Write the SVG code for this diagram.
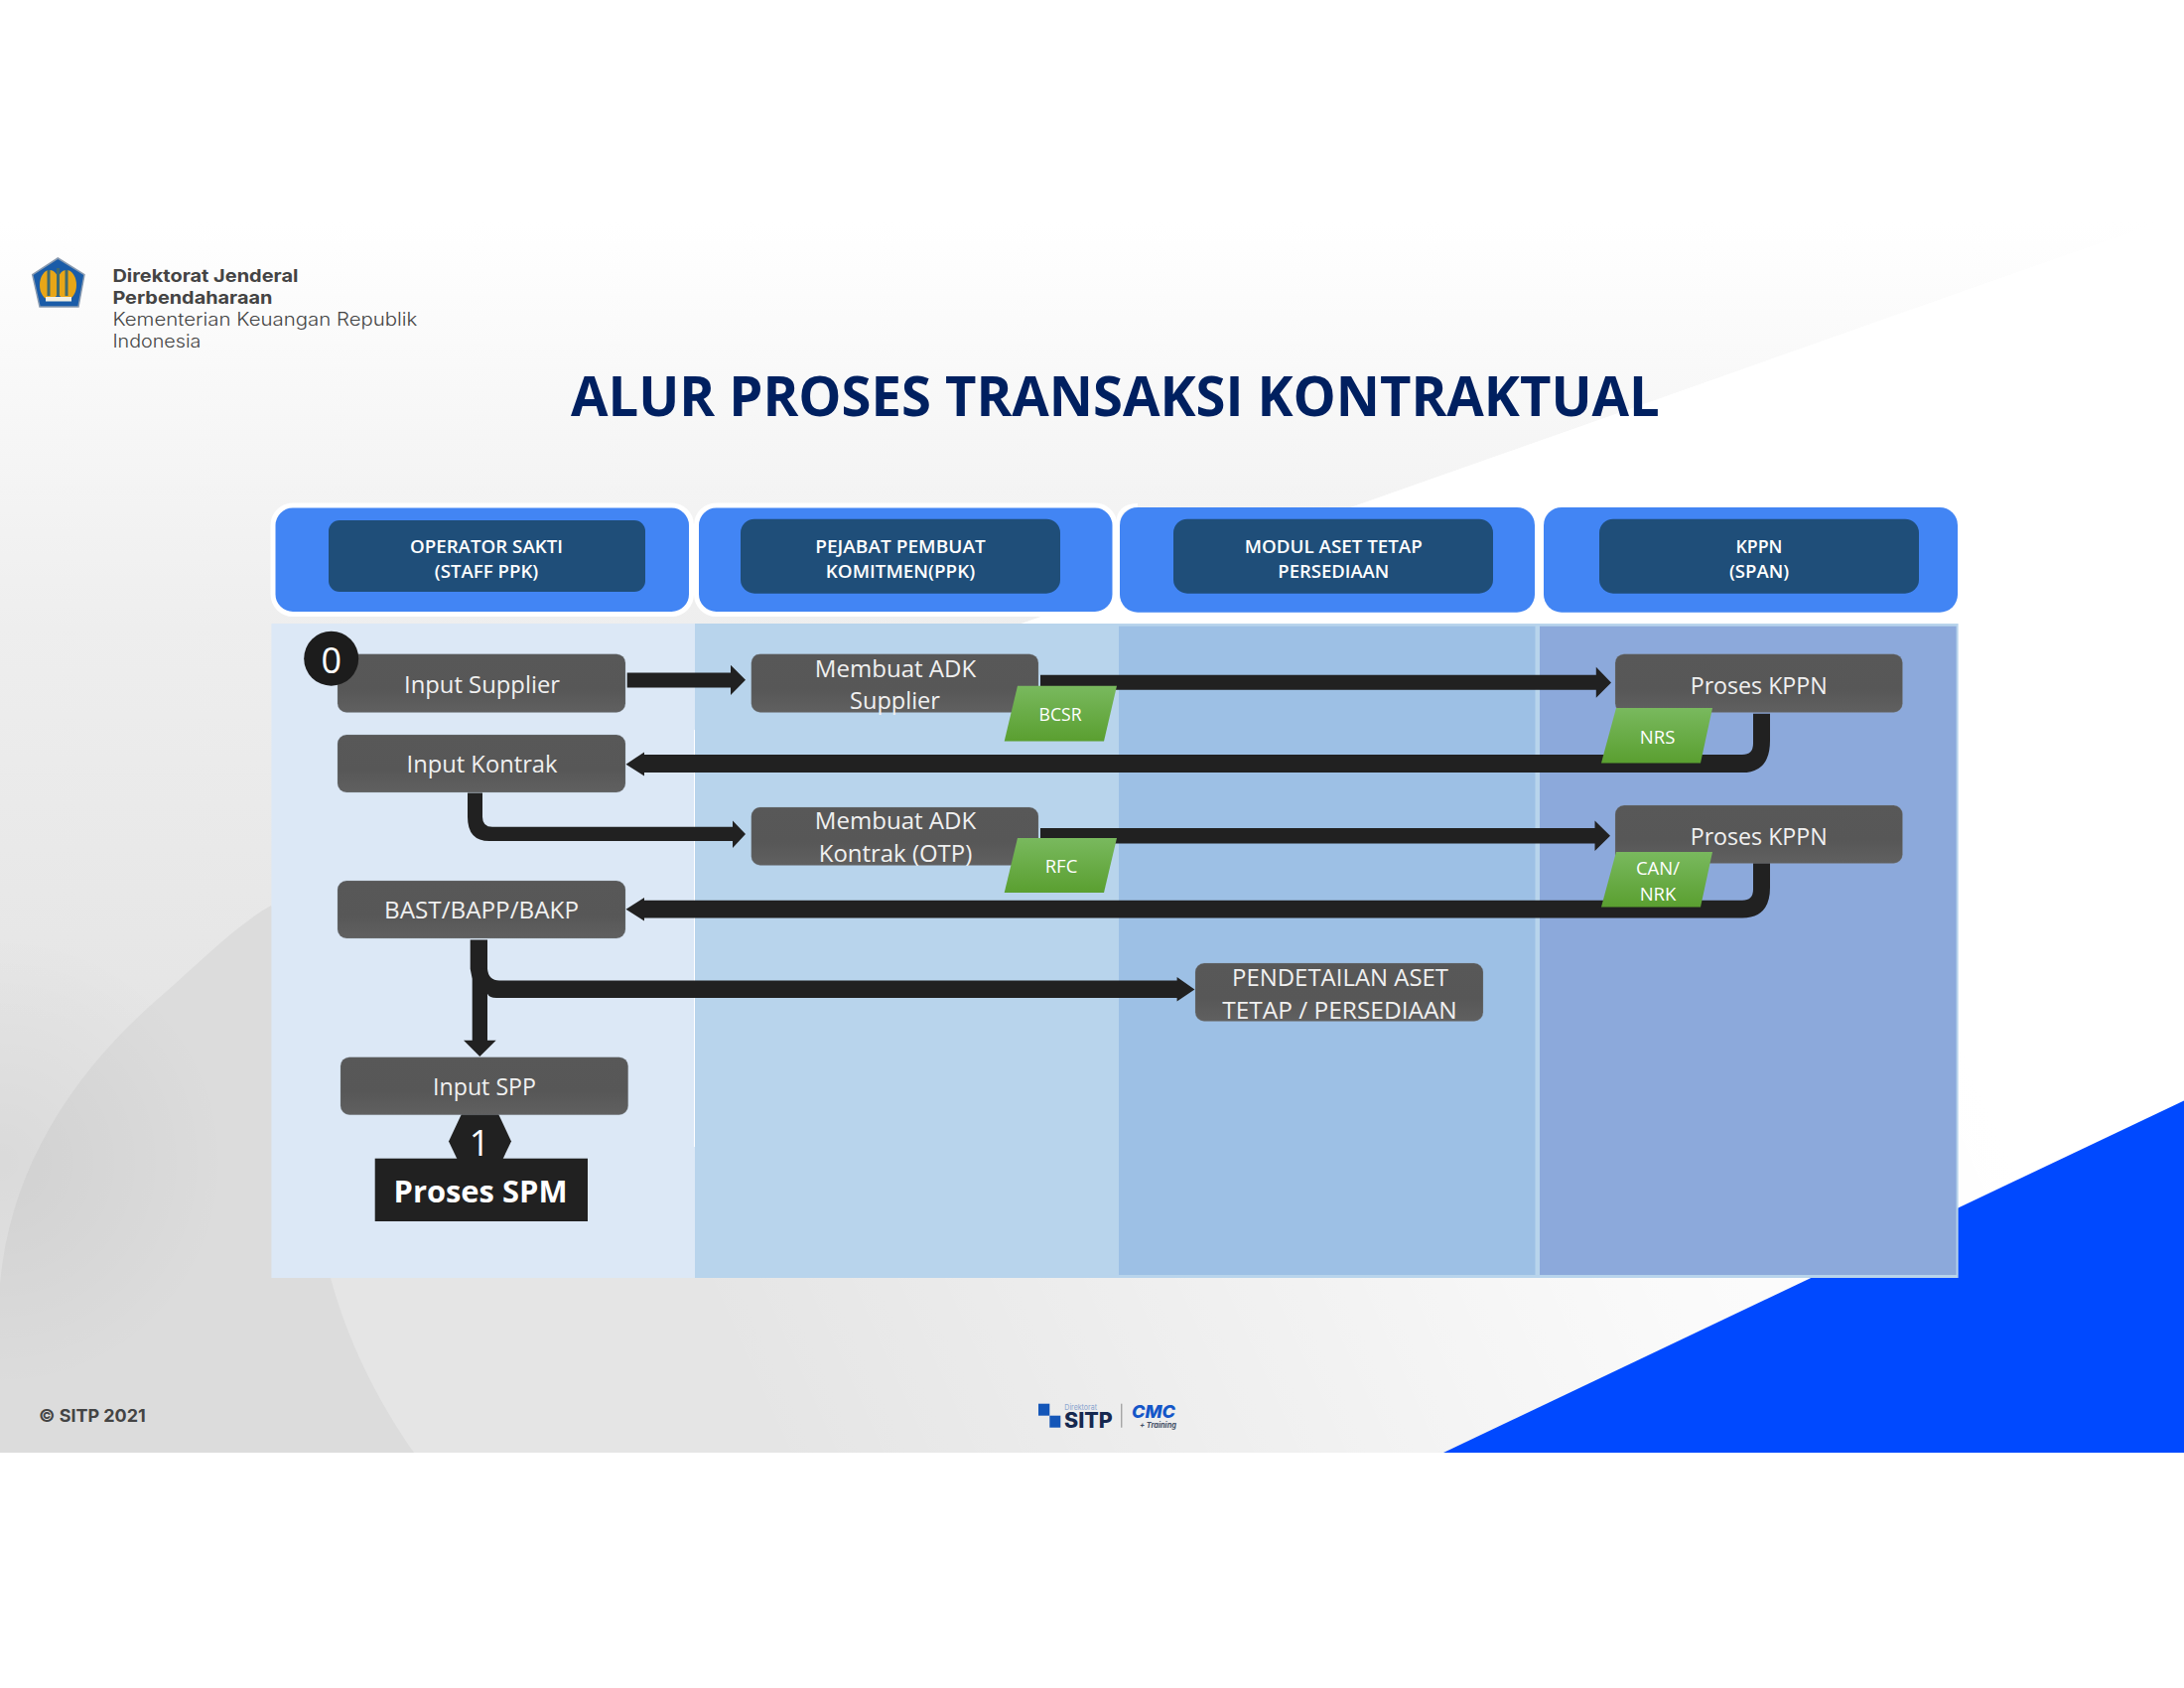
<svg xmlns="http://www.w3.org/2000/svg" width="2200" height="1700" viewBox="0 0 2200 1700">
<defs>
<linearGradient id="bg" x1="0" y1="224" x2="0" y2="1463" gradientUnits="userSpaceOnUse"><stop offset="0" stop-color="#ffffff"/><stop offset="0.33" stop-color="#eeeeee"/><stop offset="0.65" stop-color="#e5e5e5"/><stop offset="1" stop-color="#e5e5e5"/></linearGradient>
<linearGradient id="sheen" x1="1950" y1="1000" x2="800" y2="1520" gradientUnits="userSpaceOnUse"><stop offset="0" stop-color="#ffffff"/><stop offset="0.3" stop-color="#ffffff" stop-opacity="0.8"/><stop offset="1" stop-color="#ffffff" stop-opacity="0"/></linearGradient>
<radialGradient id="sideShade" cx="0" cy="1170" r="230" gradientUnits="userSpaceOnUse"><stop offset="0" stop-color="#000000" stop-opacity="0.05"/><stop offset="1" stop-color="#000000" stop-opacity="0"/></radialGradient>
<linearGradient id="nodeFill" x1="0" y1="0" x2="0" y2="1"><stop offset="0" stop-color="#585858"/><stop offset="0.6" stop-color="#575757"/><stop offset="1" stop-color="#606060"/></linearGradient>
<linearGradient id="greenFill" x1="0" y1="0" x2="0" y2="1"><stop offset="0" stop-color="#79b95e"/><stop offset="1" stop-color="#5a9f30"/></linearGradient>
</defs>
<style>
text{font-family:"Open Sans","Liberation Sans",sans-serif}
.box{fill:url(#nodeFill);stroke:#8a96a5;stroke-width:0.5;stroke-opacity:0.5}
.nt{font-size:24.5px;fill:#f0f0f0;text-anchor:middle}
.tile{fill:#4285f4;stroke:#ffffff;stroke-width:5}
.tile4{fill:#4285f4}
.inner{fill:#1f4e79}
.ht{font-size:17.5px;font-weight:600;fill:#ffffff;text-anchor:middle}
.badge{fill:url(#greenFill)}
.bt{font-size:18.5px;fill:#ffffff;text-anchor:middle}
.conn{fill:#212121}
.hdr{font-family:Inter,"Liberation Sans",sans-serif;font-size:18px}
.lg{font-family:Inter,"Liberation Sans",sans-serif}
</style>

<g id="background">
<rect x="0" y="224" width="2200" height="1239" fill="url(#bg)"/>
<path d="M0 1463 V1293 C10 1180 70 1081 167 999 C200 970 240 930 273 912 L340 1000 V1287 H333 C350 1350 380 1410 417 1463 Z" fill="#dcdcdc"/>
<rect x="0" y="940" width="230" height="460" fill="url(#sideShade)"/>
<path d="M1012 634 L2200 215 V1463 H700 V634 Z" fill="url(#sheen)"/>
<path d="M1012 634 L2200 215 V1000 H1012 Z" fill="#ffffff"/>
<polygon points="1454,1463 2200,1108.4 2200,1463" fill="#0049ff"/>
</g>

<g id="lanes">
<rect x="273.4" y="628" width="426.6" height="659" fill="#dce8f6"/>
<rect x="700" y="628" width="1272.6" height="659" fill="#b8d4ec"/>
<rect x="1127" y="630.7" width="419.5" height="653.3" fill="#9dc0e5"/>
<rect x="1551" y="630.7" width="419.6" height="653.3" fill="#8ca9db"/>
<rect x="699" y="735" width="1" height="420" fill="#ffffff"/>
</g>

<g id="header-operator">
<rect class="tile" x="275" y="509" width="421.5" height="109.5" rx="20"/>
<rect class="inner" x="331" y="524" width="319" height="72" rx="11"/>
<text class="ht" x="490" y="556.7" textLength="154" lengthAdjust="spacingAndGlyphs">OPERATOR SAKTI</text>
<text class="ht" x="490" y="582" textLength="104.5" lengthAdjust="spacingAndGlyphs">(STAFF PPK)</text>
</g>
<g id="header-ppk">
<rect class="tile" x="701.5" y="509" width="421.5" height="109.5" rx="20"/>
<rect class="inner" x="746" y="522.7" width="322" height="75" rx="14"/>
<text class="ht" x="907" y="556.7" textLength="171.6" lengthAdjust="spacingAndGlyphs">PEJABAT PEMBUAT</text>
<text class="ht" x="907" y="582" textLength="150.4" lengthAdjust="spacingAndGlyphs">KOMITMEN(PPK)</text>
</g>
<g id="header-modul">
<path d="M1146 509 Q1126 509 1126 529 V598" fill="none" stroke="#ffffff" stroke-width="4"/>
<rect class="tile4" x="1128" y="511" width="418" height="105.7" rx="18"/>
<rect class="inner" x="1182" y="522.7" width="322" height="75" rx="14"/>
<text class="ht" x="1343.3" y="556.7" textLength="179" lengthAdjust="spacingAndGlyphs">MODUL ASET TETAP</text>
<text class="ht" x="1343.3" y="582" textLength="112" lengthAdjust="spacingAndGlyphs">PERSEDIAAN</text>
</g>
<g id="header-kppn">
<rect class="tile4" x="1555" y="511" width="417" height="105.7" rx="18"/>
<rect class="inner" x="1611" y="522.7" width="322" height="75" rx="14"/>
<text class="ht" x="1772" y="556.7" textLength="47" lengthAdjust="spacingAndGlyphs">KPPN</text>
<text class="ht" x="1772" y="582" textLength="60" lengthAdjust="spacingAndGlyphs">(SPAN)</text>
</g>

<g id="connectors" transform="translate(0 0.7)">
<polygon class="conn" points="631.7,676.7 736,676.7 736,669 751,684 736,699.3 736,691.7 631.7,691.7"/>
<polygon class="conn" points="1048,679 1607.8,679 1607.8,671 1623,686.7 1607.8,702 1607.8,694 1048,694"/>
<path class="conn" d="M1766 718 H1783 V745 Q1783 777.3 1755 777.3 H649 V780.7 L630.5 769 L649 756.7 V759.3 H1755 Q1766 759.3 1766 748 Z"/>
<path class="conn" d="M471 797.7 H486 V822 Q486 832 496 832 H738 V825.7 L751 839.3 L738 853.3 V846.3 H493 Q471 846.3 471 822 Z"/>
<polygon class="conn" points="1048,833.3 1606.5,833.3 1606.5,825.7 1622,841 1606.5,856.3 1606.5,848.7 1048,848.7"/>
<path class="conn" d="M1766 868 H1783 V893 Q1783 923.7 1755 923.7 H649 V926.7 L630.5 915 L649 903.3 V906 H1755 Q1766 906 1766 895 Z"/>
<path class="conn" d="M473.7 945.7 H491 V1047 H499.7 L483.3 1063.3 L467 1047 H475.7 V985 L473.7 975 Z"/>
<path class="conn" d="M485 975 H491 Q492 986.7 503 986.7 H1185.6 V983.3 L1203.4 995.7 L1185.6 1007.7 V1004.3 H500 Q493 1004.3 491 1000 H485 Z"/>
</g>

<g id="node-input-supplier">
<rect class="box" x="340" y="658.7" width="290" height="58.7" rx="9"/>
<text class="nt" x="485.5" y="698.2" textLength="157" lengthAdjust="spacingAndGlyphs">Input Supplier</text>
</g>
<g id="badge-0">
<circle cx="333.7" cy="663.2" r="27.5" fill="#1c1c1c"/>
<text x="333.7" y="677.7" font-size="36" fill="#ffffff" text-anchor="middle">0</text>
</g>
<g id="node-input-kontrak">
<rect class="box" x="340" y="740" width="290" height="58" rx="9"/>
<text class="nt" x="485.5" y="778.2" textLength="152" lengthAdjust="spacingAndGlyphs">Input Kontrak</text>
</g>
<g id="node-bast">
<rect class="box" x="340" y="887" width="290" height="58" rx="9"/>
<text class="nt" x="485" y="925.2" textLength="196" lengthAdjust="spacingAndGlyphs">BAST/BAPP/BAKP</text>
</g>
<g id="node-adk-supplier">
<rect class="box" x="756.8" y="658.7" width="289.2" height="58.7" rx="9"/>
<text class="nt" x="902" y="681.9" textLength="162.5" lengthAdjust="spacingAndGlyphs">Membuat ADK</text>
<text class="nt" x="901.5" y="714.2" textLength="91" lengthAdjust="spacingAndGlyphs">Supplier</text>
</g>
<g id="tag-bcsr">
<polygon class="badge" points="1025,690.7 1125,690.7 1112,746.4 1011.7,746.4"/>
<text class="bt" x="1068" y="726" textLength="43" lengthAdjust="spacingAndGlyphs">BCSR</text>
</g>
<g id="node-adk-kontrak">
<rect class="box" x="756.8" y="813" width="289.2" height="58.4" rx="9"/>
<text class="nt" x="902" y="835.2" textLength="162.5" lengthAdjust="spacingAndGlyphs">Membuat ADK</text>
<text class="nt" x="902" y="868.2" textLength="154.5" lengthAdjust="spacingAndGlyphs">Kontrak (OTP)</text>
</g>
<g id="tag-rfc">
<polygon class="badge" points="1025,844 1125,844 1112,899 1011.7,899"/>
<text class="bt" x="1069" y="879">RFC</text>
</g>
<g id="node-kppn-1">
<rect class="box" x="1627" y="658.7" width="289.5" height="58.7" rx="9"/>
<text class="nt" x="1771.7" y="698.5" textLength="138" lengthAdjust="spacingAndGlyphs">Proses KPPN</text>
</g>
<g id="tag-nrs">
<polygon class="badge" points="1628,713 1725,713 1713,768.4 1613,768.4"/>
<text class="bt" x="1669.6" y="749">NRS</text>
</g>
<g id="node-kppn-2">
<rect class="box" x="1627" y="811" width="289.5" height="58.4" rx="9"/>
<text class="nt" x="1771.7" y="850.5" textLength="138" lengthAdjust="spacingAndGlyphs">Proses KPPN</text>
</g>
<g id="tag-can-nrk">
<polygon class="badge" points="1628,858 1725,858 1713,913.4 1613,913.4"/>
<text class="bt" x="1670" y="881">CAN/</text>
<text class="bt" x="1670" y="907">NRK</text>
</g>
<g id="node-pendetailan">
<rect class="box" x="1204" y="970" width="290" height="58.4" rx="9"/>
<text class="nt" x="1350" y="992.9" textLength="218" lengthAdjust="spacingAndGlyphs">PENDETAILAN ASET</text>
<text class="nt" x="1349.5" y="1026.2" textLength="236.6" lengthAdjust="spacingAndGlyphs">TETAP / PERSEDIAAN</text>
</g>
<g id="node-input-spp">
<polygon points="465,1121.7 502,1121.7 515,1149.4 502,1176.7 465,1176.7 452,1149.4" fill="#212121"/>
<rect class="box" x="343" y="1064.7" width="289.7" height="58" rx="9"/>
<text class="nt" x="488" y="1102.9" textLength="104" lengthAdjust="spacingAndGlyphs">Input SPP</text>
<text x="483" y="1164" font-size="36" fill="#ffffff" text-anchor="middle">1</text>
</g>
<g id="node-proses-spm">
<rect x="377.7" y="1166.7" width="214.3" height="63.3" fill="#212121"/>
<text x="484" y="1211" font-size="31" font-weight="700" fill="#ffffff" text-anchor="middle" textLength="175" lengthAdjust="spacingAndGlyphs">Proses SPM</text>
</g>

<g id="title">
<text x="575" y="418.7" font-size="56" font-weight="700" fill="#002060" textLength="1096.7" lengthAdjust="spacingAndGlyphs">ALUR PROSES TRANSAKSI KONTRAKTUAL</text>
</g>

<g id="org-logo">
<polygon points="58.3,260 85,276.7 79,309 40,309 32.7,276.7" fill="#1a5ca8" stroke="#8a9bb0" stroke-width="1.5"/>
<ellipse cx="50" cy="287" rx="10" ry="15" fill="#e8a617"/>
<ellipse cx="67" cy="287" rx="10" ry="15" fill="#e8a617"/>
<path d="M49 272 V298 M58.5 270 V298 M67 272 V298" stroke="#3f6a70" stroke-width="3" fill="none"/>
<rect x="46" y="299" width="26" height="4.5" fill="#f2efe2"/>
</g>
<g id="org-text" fill="#444444">
<text class="hdr" x="113.4" y="284" font-weight="700" textLength="187" lengthAdjust="spacingAndGlyphs">Direktorat Jenderal</text>
<text class="hdr" x="113.4" y="305.7" font-weight="700" textLength="161" lengthAdjust="spacingAndGlyphs">Perbendaharaan</text>
<text class="hdr" x="113.4" y="327.7" font-weight="300" textLength="307" lengthAdjust="spacingAndGlyphs">Kementerian Keuangan Republik</text>
<text class="hdr" x="113.4" y="349.7" font-weight="300" textLength="89" lengthAdjust="spacingAndGlyphs">Indonesia</text>
</g>

<g id="footer">
<text class="lg" x="39" y="1432" font-size="17.5" font-weight="700" fill="#444444" textLength="107.7" lengthAdjust="spacingAndGlyphs">© SITP 2021</text>
<rect x="1046" y="1413.7" width="11.3" height="12" fill="#1456b8"/>
<rect x="1057.3" y="1425.7" width="11" height="12" fill="#1456b8"/>
<text class="lg" x="1072.3" y="1419.5" font-size="8" fill="#8aa5cf" textLength="32.7" lengthAdjust="spacingAndGlyphs">Direktorat</text>
<text class="lg" x="1072" y="1437.5" font-size="21" font-weight="800" fill="#16284f" textLength="48.7" lengthAdjust="spacingAndGlyphs">SITP</text>
<rect x="1129.3" y="1413.7" width="1" height="24" fill="#888888"/>
<text class="lg" x="1140" y="1428" font-size="18" font-weight="800" font-style="italic" fill="#1456c8" textLength="44" lengthAdjust="spacingAndGlyphs">CMC</text>
<text class="lg" x="1148" y="1437.5" font-size="7.5" font-weight="700" font-style="italic" fill="#445066" textLength="37" lengthAdjust="spacingAndGlyphs">+ Training</text>
</g>
</svg>
